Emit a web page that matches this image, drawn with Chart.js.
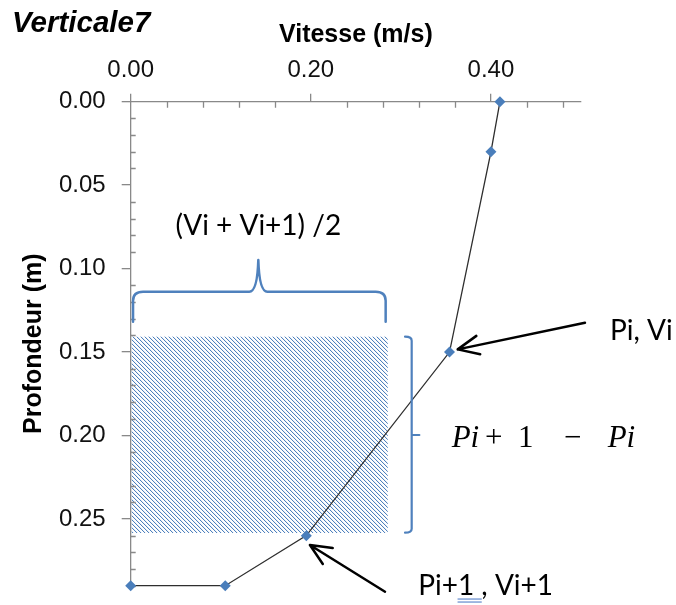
<!DOCTYPE html>
<html><head><meta charset="utf-8">
<script src="https://cdn.jsdelivr.net/npm/chart.js@4/dist/chart.umd.min.js"></script>
<style>html,body{margin:0;padding:0;background:#fff}#wrap{width:676px;height:605px;position:relative}</style>
</head><body><div id="wrap"><canvas id="c" width="676" height="605"></canvas></div>
<script>
// ---- data ----
const depths = [0.00, 0.03, 0.15, 0.26, 0.29, 0.29];   // Profondeur (m)
const speeds = [0.41, 0.40, 0.354, 0.195, 0.105, 0.00]; // Vitesse (m/s)
const xTickValues = [0.00, 0.20, 0.40];
const yTickValues = [0.00, 0.05, 0.10, 0.15, 0.20, 0.25];
const xMax = 0.5, yMax = 0.29;
const xMinorStep = 0.04, yMinorStep = 0.01;
const chartTitle = 'Verticale7';
const xTitle = 'Vitesse (m/s)';
const yTitle = 'Profondeur (m)';

// annotation anchors (in data units)
const hatchX = [0, 0.2854];
const hatchY = [0.1408, 0.2584];
const hBrace = {xL: 0.0026, xR: 0.2831, xM: 0.1417, yEnd: 0.1318, yBar: 0.1138, yPeak: 0.0948};
const vBrace = {xV: 0.3120, xHook: 0.3046, xTick: 0.3205, yTop: 0.1408, yBot: 0.2582, yMid: 0.1997};
const arrows = [
  {from: [0.5044, 0.1324], to: [0.3631, 0.1484]},
  {from: [0.2824, 0.2936], to: [0.1990, 0.2656]}
];
const labelMean = {text: '(Vi + Vi+1) /2', x: 0.1417, y: 0.0799};
const labelPi = {text: 'Pi, Vi', x: 0.5322, y: 0.1428};
const labelPi1 = {text: 'Pi+1 , Vi+1', x: 0.3193, y: 0.2956};
const labelDiff = {x: 0.3564, y: 0.2067};

const AXIS = '#898989';
const BLUE = '#4f81bd';
const ANN_FONT = 'Lato, "Liberation Sans", sans-serif';

const pc = document.createElement('canvas'); pc.width = 4; pc.height = 4;
const pg = pc.getContext('2d');
for (let i = 0; i < 4; i++) {
  pg.fillStyle = BLUE; pg.fillRect(i, i, 1, 1);
  pg.fillStyle = 'rgba(79,129,189,0.12)'; pg.fillRect((i + 1) % 4, i, 1, 1);
}

const annot = {
  id: 'annot',
  beforeDatasetsDraw(chart) {
    const ctx = chart.ctx, xs = chart.scales.x, ys = chart.scales.y;
    const X = v => xs.getPixelForValue(v), Y = v => ys.getPixelForValue(v);
    ctx.save();
    // hatched rectangle
    ctx.fillStyle = ctx.createPattern(pc, 'repeat');
    ctx.fillRect(X(hatchX[0]) + 1, Y(hatchY[0]), X(hatchX[1]) - X(hatchX[0]) - 1, Y(hatchY[1]) - Y(hatchY[0]));
    // minor ticks
    ctx.strokeStyle = AXIS; ctx.lineWidth = 1.3;
    const a = chart.chartArea;
    ctx.beginPath();
    for (let k = 1; k * xMinorStep <= xMax + 1e-9; k++) {
      const v = k * xMinorStep;
      if (Math.abs(v / 0.2 - Math.round(v / 0.2)) < 1e-6) continue;
      const px = Math.round(X(v)) + 0.5;
      ctx.moveTo(px, a.top); ctx.lineTo(px, a.top + 6);
    }
    for (let k = 1; k * yMinorStep <= yMax + 1e-9; k++) {
      const v = k * yMinorStep;
      if (Math.abs(v / 0.05 - Math.round(v / 0.05)) < 1e-6) continue;
      const py = Math.round(Y(v)) + 0.5;
      ctx.moveTo(a.left, py); ctx.lineTo(a.left + 5, py);
    }
    ctx.stroke();
    ctx.restore();
  },
  afterDraw(chart) {
    const ctx = chart.ctx, xs = chart.scales.x, ys = chart.scales.y;
    const X = v => xs.getPixelForValue(v), Y = v => ys.getPixelForValue(v);
    ctx.save();
    // horizontal brace
    ctx.strokeStyle = BLUE; ctx.lineWidth = 2.5; ctx.lineCap = 'round'; ctx.lineJoin = 'round';
    const b = hBrace;
    const xL = X(b.xL), xR = X(b.xR), xM = X(b.xM), yE = Y(b.yEnd), yB = Y(b.yBar), yP = Y(b.yPeak);
    ctx.beginPath();
    ctx.moveTo(xL, yE);
    ctx.lineTo(xL, yB + 9);
    ctx.quadraticCurveTo(xL, yB, xL + 10, yB);
    ctx.lineTo(xM - 9, yB);
    ctx.quadraticCurveTo(xM - 1, yB, xM, yP);
    ctx.quadraticCurveTo(xM + 1, yB, xM + 9, yB);
    ctx.lineTo(xR - 10, yB);
    ctx.quadraticCurveTo(xR, yB, xR, yB + 9);
    ctx.lineTo(xR, yE);
    ctx.stroke();
    // vertical brace
    const v = vBrace;
    const xV = X(v.xV), xH = X(v.xHook), xT = X(v.xTick), yT = Y(v.yTop), yBo = Y(v.yBot), yM = Y(v.yMid);
    ctx.lineWidth = 2.2;
    ctx.beginPath();
    ctx.moveTo(xH, yT);
    ctx.quadraticCurveTo(xV, yT, xV, yT + 4);
    ctx.lineTo(xV, yBo - 4);
    ctx.quadraticCurveTo(xV, yBo, xH, yBo);
    ctx.moveTo(xV, yM); ctx.lineTo(xT, yM);
    ctx.stroke();
    // arrows
    ctx.strokeStyle = '#000'; ctx.lineWidth = 2.5;
    arrows.forEach(ar => {
      const x1 = X(ar.from[0]), y1 = Y(ar.from[1]), x2 = X(ar.to[0]), y2 = Y(ar.to[1]);
      const ang = Math.atan2(y1 - y2, x1 - x2);
      const L = 23, w = 0.42;
      ctx.beginPath();
      ctx.moveTo(x1, y1); ctx.lineTo(x2, y2);
      ctx.moveTo(x2 + L * Math.cos(ang - w), y2 + L * Math.sin(ang - w));
      ctx.lineTo(x2, y2);
      ctx.lineTo(x2 + L * Math.cos(ang + w), y2 + L * Math.sin(ang + w));
      ctx.stroke();
    });
    // texts
    ctx.fillStyle = '#000';
    ctx.textBaseline = 'alphabetic';
    ctx.font = 'italic bold 29.5px "Liberation Sans", Arial, sans-serif';
    ctx.textAlign = 'left';
    ctx.fillText(chartTitle, 12, 31.5);
    ctx.font = '28px ' + ANN_FONT;
    ctx.textAlign = 'center';
    ctx.fillText(labelMean.text, X(labelMean.x), Y(labelMean.y));
    ctx.textAlign = 'left';
    ctx.fillText(labelPi.text, X(labelPi.x), Y(labelPi.y));
    const p1x = X(labelPi1.x), p1y = Y(labelPi1.y);
    ctx.fillText(labelPi1.text, p1x, p1y);
    // spell-check style double underline under "1 "
    const pre = ctx.measureText('Pi+').width, seg = ctx.measureText('1 ').width;
    ctx.strokeStyle = '#4472c4'; ctx.lineWidth = 1;
    ctx.beginPath();
    ctx.moveTo(p1x + pre, p1y + 4); ctx.lineTo(p1x + pre + seg, p1y + 4);
    ctx.moveTo(p1x + pre, p1y + 7); ctx.lineTo(p1x + pre + seg, p1y + 7);
    ctx.stroke();
    // math expression  Pi + 1 − Pi
    const mx = X(labelDiff.x), my = Y(labelDiff.y);
    const it = 'italic 31px "Liberation Serif", "DejaVu Serif", serif';
    const up = '31px "Liberation Serif", "DejaVu Serif", serif';
    ctx.textAlign = 'left';
    ctx.font = it; ctx.fillText('Pi', mx, my);
    ctx.textAlign = 'center';
    ctx.font = up; ctx.fillText('+', mx + 42, my);
    ctx.fillText('1', mx + 74, my);
    ctx.fillText('\u2212', mx + 121, my);
    ctx.textAlign = 'left';
    ctx.font = it; ctx.fillText('Pi', mx + 156, my);
    ctx.restore();
  }
};

const tickFont = {family: '"Liberation Sans", Arial, sans-serif', size: 24};
const titleFont = {family: '"Liberation Sans", Arial, sans-serif', size: 25, weight: 'bold'};

new Chart(document.getElementById('c'), {
  type: 'scatter',
  data: {
    datasets: [{
      data: speeds.map((s, i) => ({x: s, y: depths[i]})),
      showLine: true,
      borderColor: '#2e2e2e',
      borderWidth: 1.3,
      pointStyle: 'rectRot',
      pointRadius: 5.5,
      pointHoverRadius: 5.5,
      pointBackgroundColor: '#4a7ebb',
      pointBorderColor: '#4a7ebb',
      pointBorderWidth: 0,
      clip: false
    }]
  },
  options: {
    responsive: false,
    animation: false,
    devicePixelRatio: 1,
    layout: {padding: {left: 0, top: 0, right: 95, bottom: 19.3}},
    plugins: {legend: {display: false}, tooltip: {enabled: false}},
    scales: {
      x: {
        type: 'linear', position: 'top', min: 0, max: xMax,
        afterBuildTicks: s => { s.ticks = xTickValues.map(v => ({value: v})); },
        afterFit: s => { s.height = 101.7; s.paddingLeft = 0; s.paddingRight = 0; },
        ticks: {callback: v => Number(v).toFixed(2), font: tickFont, color: '#111', padding: 9, maxRotation: 0, autoSkip: false},
        grid: {drawOnChartArea: false, drawTicks: true, tickLength: 8, color: AXIS, tickColor: AXIS, lineWidth: 1.3},
        border: {color: AXIS, width: 1.3},
        title: {display: true, text: xTitle, font: titleFont, color: '#000', padding: {top: 20, bottom: 0}}
      },
      y: {
        type: 'linear', position: 'left', reverse: true, min: 0, max: yMax,
        afterBuildTicks: s => { s.ticks = yTickValues.map(v => ({value: v})); },
        afterFit: s => { s.width = 130.7; s.paddingTop = 0; s.paddingBottom = 0; },
        ticks: {callback: v => Number(v).toFixed(2), font: tickFont, color: '#111', padding: 16, autoSkip: false},
        grid: {drawOnChartArea: false, drawTicks: true, tickLength: 9, color: AXIS, tickColor: AXIS, lineWidth: 1.3},
        border: {color: AXIS, width: 1.3},
        title: {display: true, text: yTitle, font: titleFont, color: '#000', padding: {top: 19, bottom: 0}}
      }
    }
  },
  plugins: [annot]
});
</script>
</body></html>
